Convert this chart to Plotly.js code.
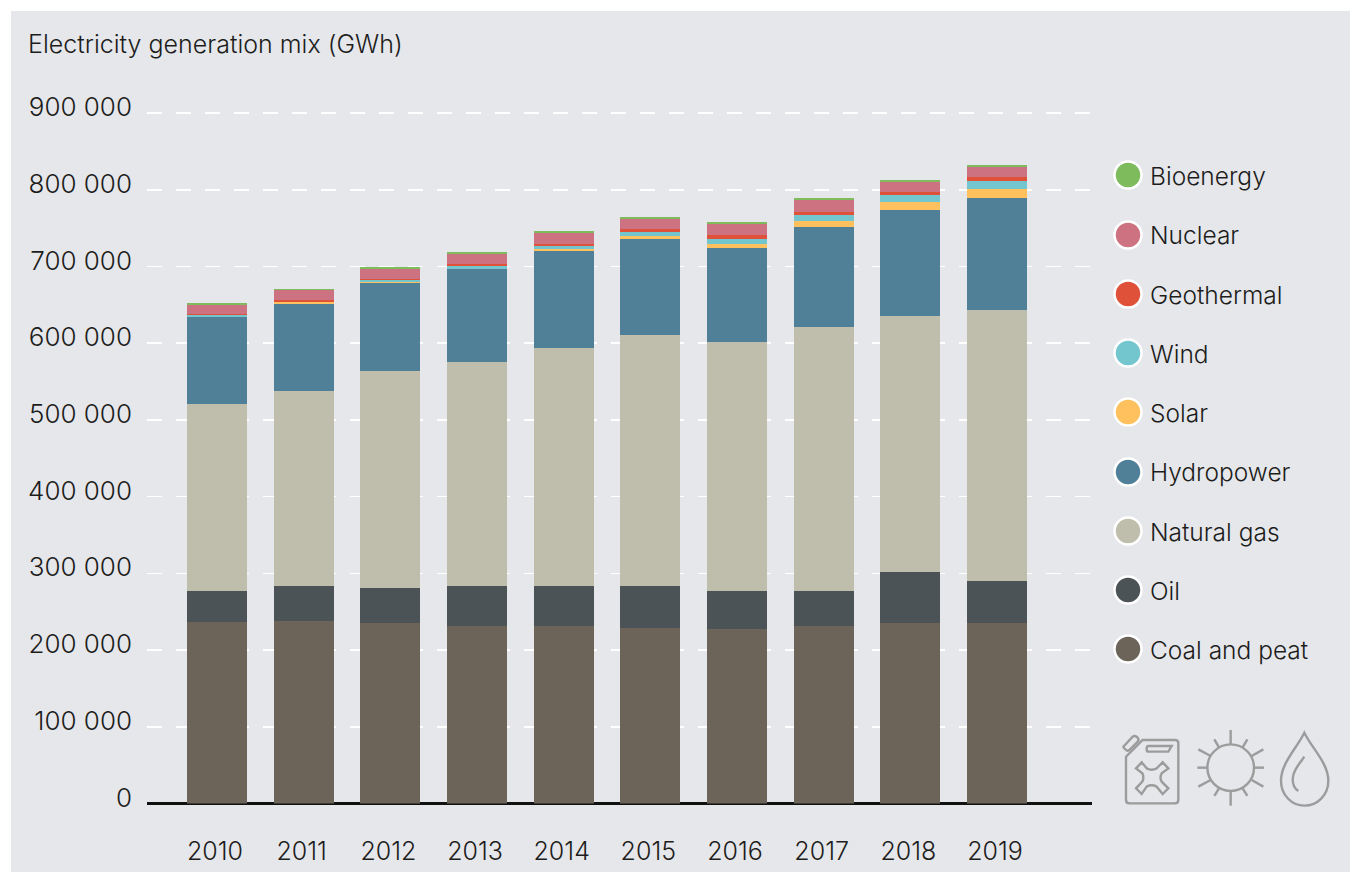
<!DOCTYPE html>
<html><head><meta charset="utf-8">
<script src="https://cdn.plot.ly/plotly-3.0.1.min.js"></script>
<style>html,body{margin:0;padding:0;background:#fff}#c{width:1362px;height:872px}</style></head>
<body><div id="c"></div>
<script>
const years = ['2010','2011','2012','2013','2014','2015','2016','2017','2018','2019'];
const coal  = [236600,237900,235300,231400,231400,228700,227400,231400,235300,235300];
const oil   = [40400,45600,45600,52100,52100,54700,49500,45600,66500,54700];
const gas   = [243700,254200,282800,292000,310200,327200,324500,344100,333700,353200];
const hydro = [113400,113400,114700,121200,126400,125100,122500,130300,138200,146000];
const solar = [200,2200,1800,300,2200,3900,5200,7800,10400,11700];
const wind  = [2700,500,2200,3900,4300,5200,6500,7800,9100,10400];
const geo   = [800,2600,1300,2600,2600,3900,5200,3900,3900,5200];
const nuclear = [12000,12600,13000,13000,14300,13000,14300,15600,13000,13000];
const bio   = [2600,1700,2600,2600,2600,2600,2600,2600,2600,2600];
const seriesNames = ['Coal and peat','Oil','Natural gas','Hydropower','Solar','Wind','Geothermal','Nuclear','Bioenergy'];
const seriesValues = [coal,oil,gas,hydro,solar,wind,geo,nuclear,bio];
const seriesColors = ['#6C6359','#4B5356','#BFBEAC','#508098','#FFC05E','#73C5CE','#DF5138','#CC7280','#7DBB5C'];
const yTicks = [0,100000,200000,300000,400000,500000,600000,700000,800000,900000];
const yTickText = ['0','100 000','200 000','300 000','400 000','500 000','600 000','700 000','800 000','900 000'];
const FONT = 'Inter, sans-serif', INK = '#1d1d1b', W = 1362, H = 872;
const fx = v => v / W, fy = v => 1 - v / H;
const toPaper = (s, ox = 0, oy = 0, k = 1) => s.replace(/(-?[\d.]+) (-?[\d.]+)/g,
  (m, a, b) => fx(ox + a * k).toFixed(5) + ',' + fy(oy + b * k).toFixed(5));
const iconLine = {color: '#9C9C9C', width: 2.4};
const icon = s => ({type: 'path', xref: 'paper', yref: 'paper', line: iconLine, path: toPaper(s, 1100, 720, 1 / 3)});
const iconPaths = [
  'M 128 60 L 225 60 Q 235 60 235 70 L 235 240 Q 235 250 225 250 L 88 250 Q 78 250 78 240 L 78 110 Z',
  'M 72 78 L 98 50 Q 104 46 110 50 L 114 55 Q 118 60 112 66 L 88 90 Q 82 94 78 90 L 72 84 Q 68 80 72 78 Z',
  'M 145 78 L 215 78 L 205 95 L 145 95 Q 140 95 140 87 Q 140 78 145 78 Z',
  'M 108 145 L 125 127 L 140 145 Q 155 153 170 145 L 188 127 L 205 145 L 185 160 Q 178 172 185 185 L 205 205 L 188 222 L 170 200 Q 155 192 140 200 L 125 222 L 108 205 L 127 185 Q 133 172 127 160 Z',
  'M 392 30 L 392 72', 'M 392 213 L 392 257', 'M 292 143 L 322 143', 'M 462 143 L 492 143',
  'M 295 88 L 332 108', 'M 490 88 L 455 108', 'M 295 200 L 332 180', 'M 490 200 L 455 180',
  'M 343 58 L 357 82', 'M 442 58 L 428 82', 'M 343 228 L 357 205', 'M 442 228 L 428 205',
  'M 613 38 C 590 85 543 130 543 182 C 543 225 575 257 613 257 C 652 257 685 225 685 182 C 685 130 636 85 613 38 Z',
  'M 613 110 C 595 135 578 155 578 178 C 578 195 585 207 595 213'
];
const legendRows = [175,235,294,353,412,472,531,590,649];
const traces = seriesNames.map((n, i) => ({type: 'bar', name: n, x: years, y: seriesValues[i],
  marker: {color: seriesColors[i], line: {width: 0}}, width: 0.692, showlegend: false, hoverinfo: 'name+y'}));
const shapes = [{type: 'rect', xref: 'paper', yref: 'paper', layer: 'below', x0: fx(11), x1: fx(1350), y0: 0, y1: fy(11),
  fillcolor: '#E6E7EB', line: {width: 0}}];
const annotations = [{xref: 'paper', yref: 'paper', x: fx(26), y: fy(44), xanchor: 'left', yanchor: 'middle', showarrow: false,
  text: 'Electricity generation mix (GWh)', font: {family: FONT, size: 25, weight: 300, color: INK}}];
seriesNames.slice().reverse().forEach((n, i) => {
  const yy = legendRows[i];
  shapes.push({type: 'circle', xref: 'paper', yref: 'paper', x0: fx(1114.5), x1: fx(1141.5), y0: fy(yy + 13.5), y1: fy(yy - 13.5),
    fillcolor: seriesColors[8 - i], line: {color: '#fff', width: 2.5}});
  annotations.push({xref: 'paper', yref: 'paper', x: fx(1147.5), y: fy(yy + 0.5), xanchor: 'left', yanchor: 'middle', showarrow: false,
    text: n, font: {family: FONT, size: 24.5, weight: 300, color: INK}});
});
iconPaths.forEach(p => shapes.push(icon(p)));
shapes.push({type: 'circle', xref: 'paper', yref: 'paper', x0: fx(1207.4), x1: fx(1254), y0: fy(791), y1: fy(744.4), line: iconLine});
const layout = {
  width: W, height: H, margin: {l: 0, r: 0, t: 0, b: 0}, paper_bgcolor: '#fff', plot_bgcolor: 'rgba(0,0,0,0)',
  barmode: 'stack', showlegend: false, font: {family: FONT, color: INK},
  xaxis: {domain: [fx(147), fx(1092)], type: 'category', range: [-0.808, 10.096], showgrid: false, zeroline: false, showline: false,
    tickmode: 'array', tickvals: years, ticktext: years, ticks: '', tickfont: {family: FONT, size: 25, weight: 300, color: INK},
    ticklabelstandoff: 30, ticklabelshift: -2, anchor: 'y', fixedrange: true},
  yaxis: {domain: [fy(803.5), fy(109.2)], range: [0, 905000], tickmode: 'array', tickvals: yTicks, ticktext: yTickText,
    ticks: '', tickfont: {family: FONT, size: 26, weight: 300, color: INK}, ticklabelstandoff: 14, ticklabelshift: -6,
    showgrid: true, gridcolor: '#FFFFFF', gridwidth: 1.5, griddash: '15px,14px',
    zeroline: true, zerolinecolor: '#111111', zerolinewidth: 2.5, showline: false, anchor: 'x', fixedrange: true},
  shapes, annotations
};
Plotly.newPlot('c', traces, layout, {displayModeBar: false, staticPlot: true});
</script></body></html>
